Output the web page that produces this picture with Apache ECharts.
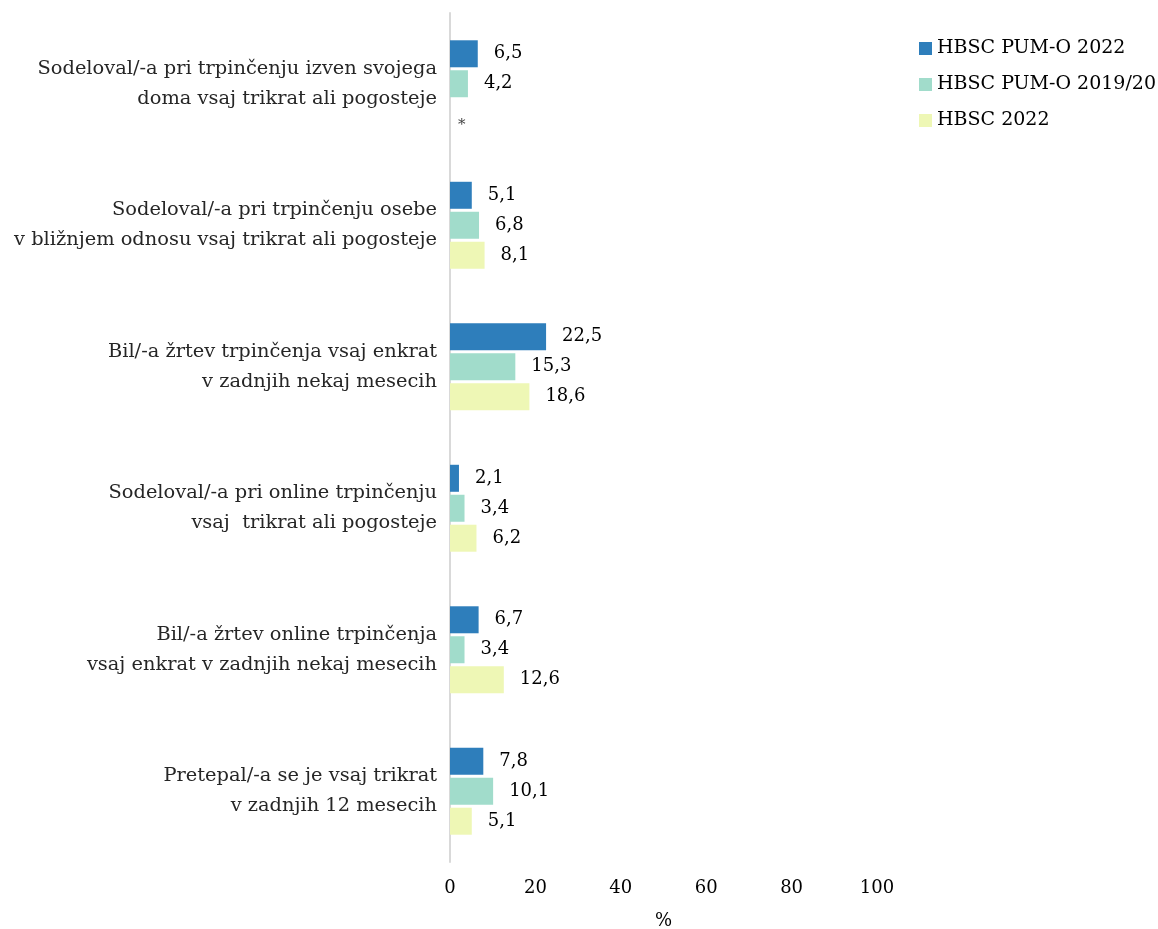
<!DOCTYPE html>
<html><head><meta charset="utf-8">
<script src="https://cdn.jsdelivr.net/npm/echarts@6/dist/echarts.min.js"></script>
<style>html,body{margin:0;padding:0;background:#fff}#c{width:1158px;height:929px}</style>
</head><body><div id="c"></div>
<script>
const categories = [
  "Sodeloval/-a pri trpinčenju izven svojega\ndoma vsaj trikrat ali pogosteje",
  "Sodeloval/-a pri trpinčenju osebe\nv bližnjem odnosu vsaj trikrat ali pogosteje",
  "Bil/-a žrtev trpinčenja vsaj enkrat\nv zadnjih nekaj mesecih",
  "Sodeloval/-a pri online trpinčenju\nvsaj  trikrat ali pogosteje",
  "Bil/-a žrtev online trpinčenja\nvsaj enkrat v zadnjih nekaj mesecih",
  "Pretepal/-a se je vsaj trikrat\nv zadnjih 12 mesecih"
];
const seriesNames = ["HBSC PUM-O 2022", "HBSC PUM-O 2019/20", "HBSC 2022"];
const pumo2022 = [6.5, 5.1, 22.5, 2.1, 6.7, 7.8];
const pumo2019 = [4.2, 6.8, 15.3, 3.4, 3.4, 10.1];
const hbsc2022 = [null, 8.1, 18.6, 6.2, 12.6, 5.1];
const xTicks = [0, 20, 40, 60, 80, 100];
const colors = ["#2e7ebb", "#a1dccb", "#eef7b5"];
const FONT = "DejaVu Serif";

function mk(arr) {
  return arr.map(v => v === null ? {value: 0, label: {formatter: '*', offset: [-8, 11], fontSize: 15, color: '#444'}} : v);
}
const seriesData = [pumo2022, pumo2019, hbsc2022];

const chart = echarts.init(document.getElementById('c'));
chart.setOption({
  animation: false,
  textStyle: {fontFamily: FONT},
  legend: {
    orient: 'vertical', left: 914, top: 34, itemWidth: 13, itemHeight: 13, itemGap: 17,
    icon: 'rect',
    textStyle: {fontFamily: FONT, fontSize: 19, color: '#000'},
    data: seriesNames
  },
  grid: {left: 450, top: 13, width: 427, height: 849, containLabel: false, outerBoundsMode: 'none'},
  xAxis: {
    type: 'value', min: 0, max: 100, interval: 20,
    axisLine: {show: false}, axisTick: {show: false}, splitLine: {show: false},
    axisLabel: {fontFamily: FONT, fontSize: 18, color: '#000', margin: 17,
      formatter: v => xTicks.includes(v) ? String(v) : ''},
    name: '%', nameLocation: 'middle', nameGap: 50,
    nameTextStyle: {fontFamily: FONT, fontSize: 18, color: '#000'}
  },
  yAxis: {
    type: 'category', inverse: true, data: categories,
    axisLine: {show: true, lineStyle: {color: '#d9d9d9', width: 2}},
    axisTick: {show: false},
    axisLabel: {fontFamily: FONT, fontSize: 19.4, color: '#262626', margin: 13, lineHeight: 30, align: 'right'}
  },
  series: seriesNames.map((n, i) => ({
    name: n, type: 'bar', data: mk(seriesData[i]),
    barWidth: 27, barGap: '11%',
    itemStyle: {color: colors[i]},
    label: {show: true, position: 'right', distance: 16, fontFamily: FONT, fontSize: 18, color: '#000',
      formatter: p => String(p.value).replace('.', ',')}
  }))
});
</script></body></html>
